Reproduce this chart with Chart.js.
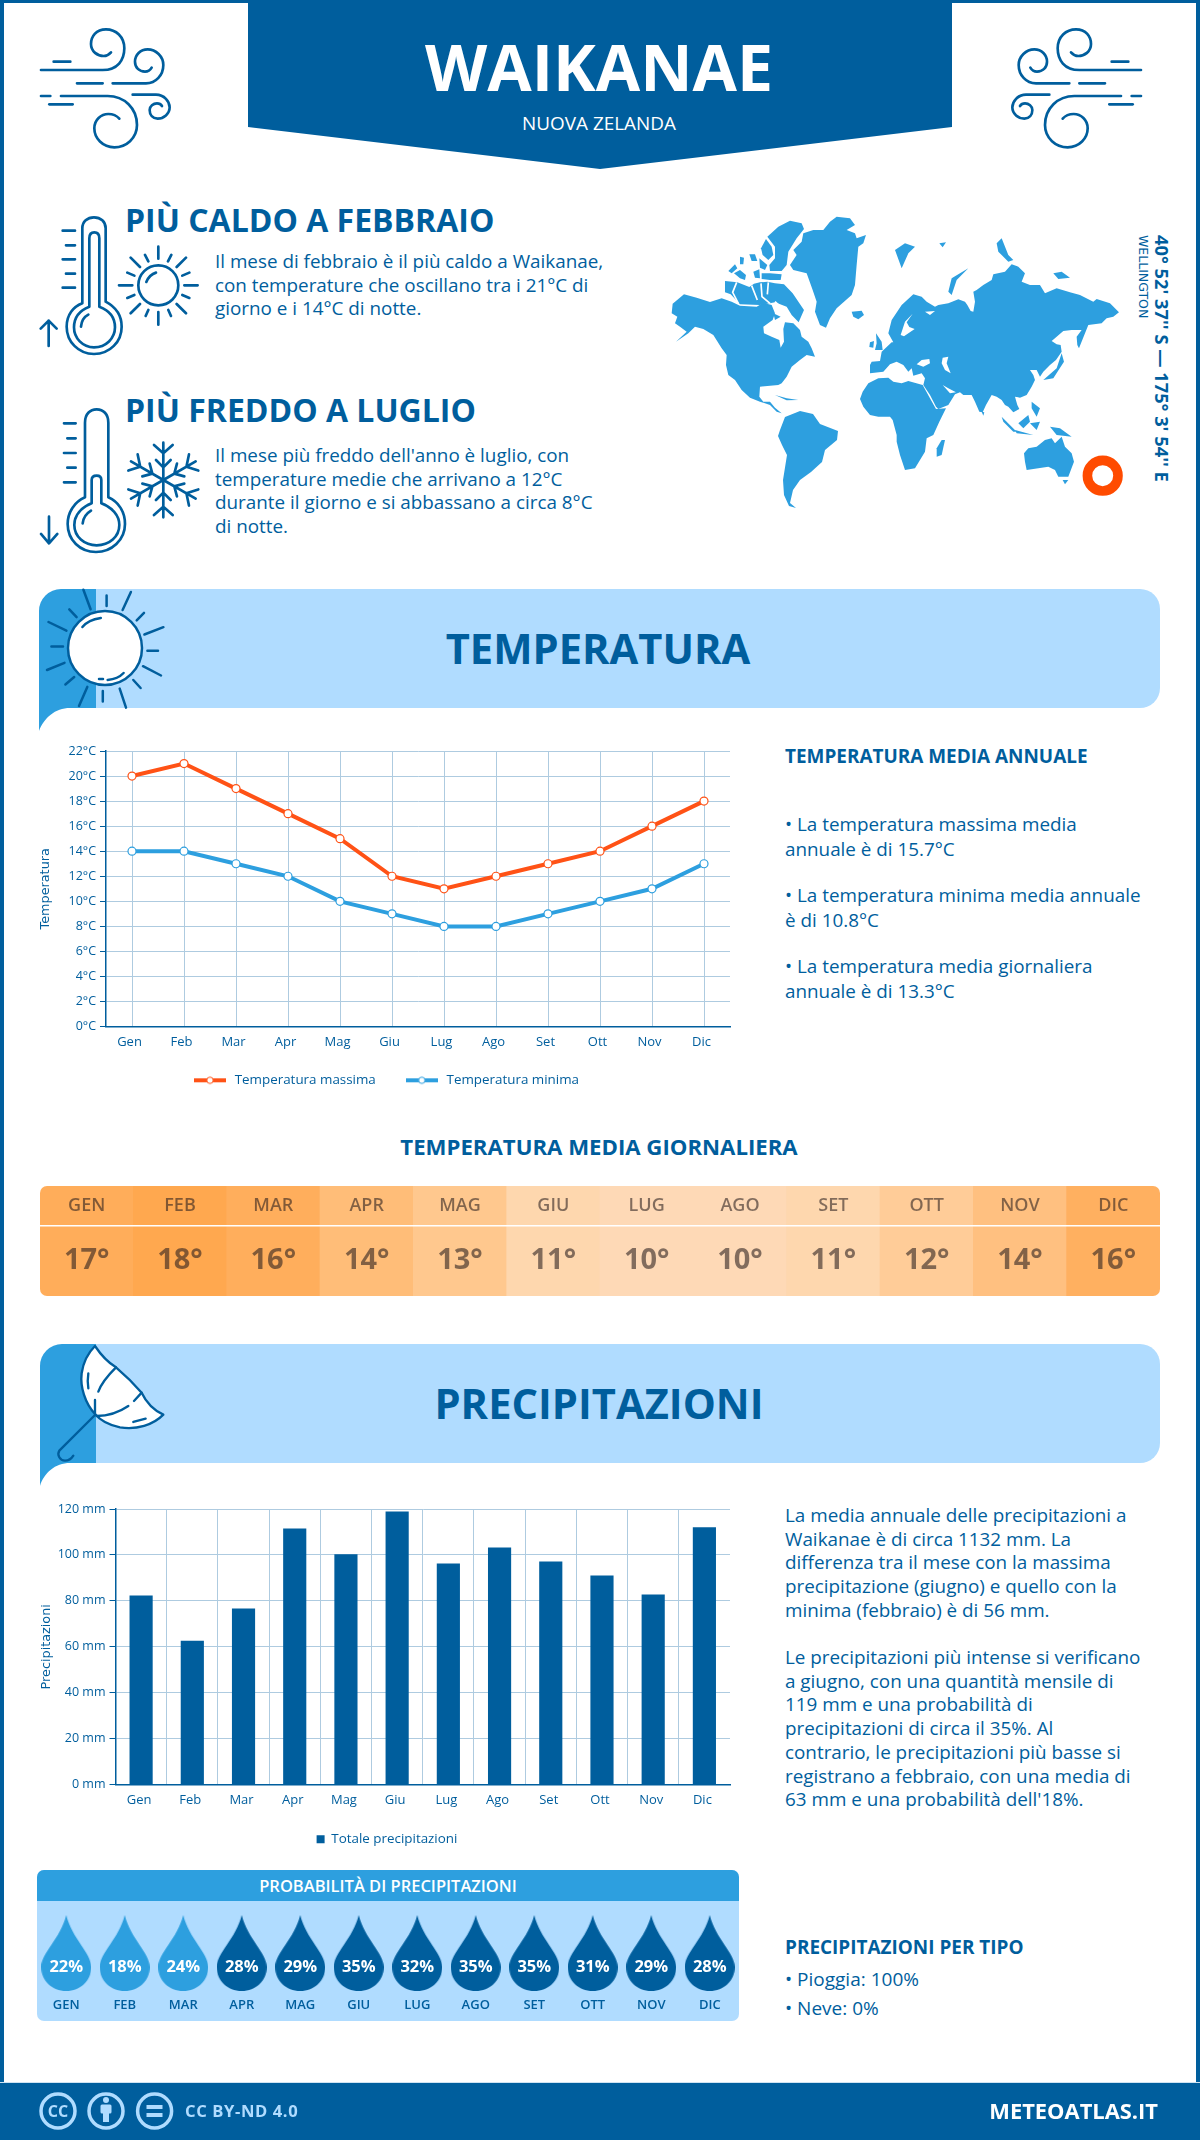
<!DOCTYPE html>
<html lang="it">
<head>
<meta charset="utf-8">
<title>Waikanae</title>
<script src="https://cdn.jsdelivr.net/npm/chart.js@4"></script>
<style>
    html, body { margin: 0; padding: 0; background: #fff; }
    body { position: relative; width: 1200px; height: 2140px; overflow: hidden; font-family: "Open Sans", sans-serif; color: #005e9d; }
    .frame { position: absolute; left: 0; top: 0; width: 1192px; height: 2133px; border: 4px solid #005e9d; border-top-width: 3px; }
    .t { position: absolute; white-space: nowrap; margin: 0; }
    svg.art { position: absolute; left: 0; top: 0; width: 1200px; height: 2140px; }
    canvas { position: absolute; }
    .panel { position: absolute; left: 37px; top: 1870px; width: 702px; height: 151px; background: #b0dcff; border-radius: 7px; overflow: hidden; }
    .panel div { height: 31px; background: #2d9fdf; color: #fff; text-align: center; font-weight: 600; font-size: 16.5px; line-height: 31px; }
    .strip { position: absolute; left: 40px; top: 1186px; width: 1120px; height: 110px; border-radius: 7px; overflow: hidden; }
    .strip canvas { left: 0; top: 0; }
    .body18 { font-size: 18.85px; line-height: 24.8px; }
    .body19 { font-size: 18.85px; line-height: 23.7px; }
    .h18 { font-size: 18.95px; font-weight: 700; }
    .foot { position: absolute; left: 0; top: 2083px; width: 1200px; height: 57px; background: #005e9d; box-shadow: 0 -1px 0 #cfe3f2; }
</style>
</head>
<body>
<div class="frame"></div>

<svg class="art" viewBox="0 0 1200 2140" xmlns="http://www.w3.org/2000/svg">
    <polygon points="248,0 952,0 952,127 600,169 248,127" fill="#005e9d"/>

    <!-- wind icons -->
    <defs>
        <g id="wind" fill="none" stroke="#005e9d" stroke-width="8" stroke-linecap="round">
            <path d="M30,150 H215 C260,150 280,120 280,85 C280,50 255,28 225,28 C195,28 180,50 180,72 C180,95 200,108 218,108 C228,108 235,103 240,97"/>
            <path d="M68,125 H118 M138,190 H215"/>
            <path d="M245,190 H345 C375,190 397,165 397,135 C397,110 375,88 350,88 C328,88 312,105 312,125 C312,143 325,155 342,155 C350,155 358,150 362,143"/>
            <path d="M30,228 H58 M90,228 H230 C280,228 318,265 318,315 C318,355 285,382 250,382 C215,382 190,355 190,325 C190,300 210,282 232,282 C247,282 258,288 265,296"/>
            <path d="M55,253 H125"/>
            <path d="M305,224 H375 C400,224 416,245 416,262 C416,282 398,296 380,296 C365,296 356,285 356,270 C356,258 367,250 378,250 C384,250 390,253 393,258"/>
        </g>
    </defs>
    <g transform="translate(31,20) scale(.3333)"><use href="#wind"/></g>
    <g transform="translate(1151,20) scale(-.3333,.3333)"><use href="#wind"/></g>

    <!-- hot thermometer and sun -->
    <g transform="translate(30,20) scale(.3333)" fill="none" stroke="#005e9d" stroke-width="8" stroke-linecap="round" stroke-linejoin="round">
        <path d="M157,850 V625 C157,605 172,592 192,592 C212,592 227,605 227,625 V845 C255,860 275,885 275,920 C275,965 240,1002 192,1002 C145,1002 110,965 110,920 C110,885 130,860 157,850 Z"/>
        <path d="M178,860 V655 C178,642 185,637 193,637 C201,637 208,642 208,655 V860 C235,870 255,890 255,922 C255,955 228,982 192,982 C158,982 132,955 132,922 C132,890 152,870 178,860 Z"/>
        <path d="M153,920 C155,900 163,890 175,884"/>
        <path d="M98,632 H135 M108,676 H135 M98,718 H135 M108,761 H135 M98,803 H135"/>
        <path d="M56,978 V902 M32,926 L56,902 L80,926"/>
        <circle cx="385" cy="796" r="60"/>
        <path d="M349,786 C355,772 365,762 378,758"/>
        <path d="M385,680 V716 M385,876 V914 M267,796 H307 M463,796 H503 M302,713 L330,741 M468,713 L440,741 M302,880 L330,852 M468,880 L440,852"/>
        <path d="M345,705 L355,724 M424,705 L414,724 M292,758 L313,767 M478,758 L457,767 M292,834 L313,825 M478,834 L457,825 M347,888 L355,870 M423,888 L415,870"/>
    </g>

    <!-- cold thermometer and snowflake -->
    <defs>
        <path id="arm" d="M400,240 V128 M372,135 L400,160 L428,135 M378,180 L400,202 L422,180"/>
    </defs>
    <g transform="translate(30,400) scale(.3333)" fill="none" stroke="#005e9d" stroke-width="8" stroke-linecap="round" stroke-linejoin="round">
        <path d="M165,292 V68 C165,42 180,28 200,28 C220,28 235,42 235,68 V292 C265,305 285,335 285,372 C285,420 245,456 198,456 C150,456 113,420 113,372 C113,335 135,305 165,292 Z"/>
        <path d="M185,310 V240 C185,230 192,227 200,227 C208,227 214,230 214,240 V310 C245,322 268,345 268,375 C268,410 238,436 200,436 C163,436 133,410 133,375 C133,345 155,322 185,310 Z"/>
        <path d="M158,370 C160,352 170,340 183,332"/>
        <path d="M102,70 H137 M112,115 H137 M102,159 H137 M112,203 H137 M102,247 H137"/>
        <path d="M57,350 V430 M33,402 L57,430 L82,402"/>
        <use href="#arm"/>
        <use href="#arm" transform="rotate(60 400 240)"/>
        <use href="#arm" transform="rotate(120 400 240)"/>
        <use href="#arm" transform="rotate(180 400 240)"/>
        <use href="#arm" transform="rotate(240 400 240)"/>
        <use href="#arm" transform="rotate(300 400 240)"/>
    </g>

    <!-- world map, west half -->
    <g transform="translate(660,205) scale(.3333)" fill="#2d9fdf">
        <path d="M38,296 L55,282 L72,268 L110,278 L150,291 L185,280 L215,290 L240,302 L290,305 L310,293 L335,300 L345,325 L338,345 L310,365 L312,385 L335,395 L358,405 L362,428 L372,410 L370,372 L375,352 L400,355 L420,375 L425,395 L445,410 L455,430 L465,455 L440,450 L420,465 L395,485 L380,515 L365,535 L355,540 L300,545 L298,575 L310,590 L330,590 L345,608 L365,625 L350,620 L330,600 L300,590 L270,578 L245,555 L225,525 L205,510 L198,480 L200,450 L185,430 L160,390 L130,372 L105,365 L85,385 L48,410 L80,380 L60,365 L45,355 L52,335 L35,325 Z"/>
        <path d="M322,95 L355,65 L390,47 L425,55 L432,72 L410,100 L385,140 L380,180 L365,198 L330,198 L328,180 L345,160 L345,125 Z"/>
        <path d="M303,130 L318,102 L335,125 L340,150 L325,165 L308,150 Z"/>
        <path d="M205,198 L225,178 L232,190 L215,205 Z M222,205 L240,195 L258,210 L255,225 L240,220 Z M268,148 L285,148 L292,168 L275,168 Z M240,155 L252,158 L250,178 L240,178 Z M280,200 L298,193 L300,220 L285,218 Z M298,160 L322,180 L315,195 L300,188 Z M305,205 L330,205 L365,208 L362,225 L330,225 L305,222 Z"/>
        <path d="M195,228 L232,232 L268,246 L282,236 L300,232 L322,230 L345,235 L372,238 L398,265 L432,315 L416,352 L395,330 L380,305 L345,292 L300,300 L240,298 L212,268 L195,262 Z"/>
        <path d="M230,232 L218,262 L235,295 M275,242 L292,285 M303,235 L306,275 L330,295 M325,232 L322,268 M345,290 L375,318 L345,322" fill="none" stroke="#fff" stroke-width="5"/>
        <path d="M340,325 L362,335 L345,345 Z"/>
        <path d="M390,180 L410,150 L400,135 L425,110 L430,85 L460,75 L490,75 L510,50 L530,35 L570,40 L585,60 L560,75 L585,85 L590,100 L618,90 L610,115 L595,125 L590,180 L585,240 L575,270 L530,310 L510,340 L498,368 L480,360 L465,320 L470,290 L458,255 L440,205 L400,195 Z"/>
        <path d="M575,320 L605,317 L612,330 L595,343 L580,335 Z"/>
        <path d="M648,385 L665,410 L668,435 L645,435 L650,415 Z M630,412 L642,408 L640,428 L628,426 Z"/>
        <path d="M345,570 L380,580 L415,585 L380,586 Z"/>
    </g>
    <path fill="#2d9fdf" d="M780,430 L785,417 L800,411 L813,414 L820,424 L838,431 L837,440 L825,450 L822,462 L811,472 L800,480 L793,490 L790,503 L796,508 L789,506 L784,495 L783,480 L787,455 L782,445 L778,436 Z"/>
    <!-- world map, east half -->
    <g transform="translate(880,205) scale(.3333)" fill="#2d9fdf">
        <path d="M100,268 L125,275 L140,290 L165,305 L175,300 L205,295 L235,283 L255,290 L262,300 L272,318 L280,320 L285,290 L280,260 L290,255 L310,240 L335,225 L340,208 L375,200 L395,178 L415,185 L435,205 L425,230 L450,240 L480,240 L495,265 L530,250 L570,262 L600,270 L640,290 L650,282 L690,295 L717,322 L700,335 L680,340 L665,355 L625,360 L597,430 L592,420 L590,395 L605,375 L575,375 L550,378 L530,395 L515,408 L530,418 L542,420 L545,440 L528,465 L510,480 L490,500 L480,515 L470,495 L450,495 L460,510 L465,525 L455,545 L440,570 L420,578 L405,575 L412,600 L418,612 L400,622 L385,605 L375,600 L365,585 L350,575 L335,570 L318,600 L308,622 L298,620 L285,590 L275,570 L250,570 L240,562 L225,568 L205,600 L175,612 L168,605 L150,570 L130,540 L135,520 L125,505 L100,512 L95,490 L85,500 L70,480 L50,470 L30,478 L10,500 L-30,505 L-30,480 L-25,470 L0,468 L5,440 L35,412 L40,412 L25,385 L35,345 L65,300 Z"/>
        <path fill="#fff" d="M62,390 L75,350 L98,326 L80,352 L88,366 L104,372 L72,394 Z M110,478 L125,465 L148,462 L150,475 L130,485 Z M188,458 L205,455 L200,475 L212,505 L195,495 L185,475 Z M188,540 L205,550 L228,562 L210,565 Z M135,320 L165,318 L150,330 Z"/>
        <path d="M-60,582 L-52,560 L-35,535 L-5,520 L25,518 L40,530 L65,535 L85,528 L128,540 L150,580 L168,612 L198,610 L178,650 L160,690 L140,700 L135,740 L105,790 L75,795 L60,750 L50,710 L50,690 L38,645 L30,635 L-5,635 L-30,630 L-50,605 Z"/>
        <path d="M185,705 L195,705 L185,750 L170,755 L170,730 Z"/>
        <path d="M432,745 L445,730 L470,725 L495,705 L515,700 L525,715 L545,695 L555,725 L575,745 L582,770 L565,815 L535,815 L525,795 L505,785 L475,790 L440,795 L435,770 Z"/>
        <path d="M548,825 L565,825 L555,838 Z"/>
        <path d="M510,665 L540,670 L575,695 L530,690 Z M415,655 L445,630 L450,650 L430,670 Z M365,635 L410,680 L400,680 L370,650 Z M405,675 L460,690 L410,685 Z M455,590 L480,610 L470,635 L455,610 Z M450,655 L480,650 L470,675 Z"/>
        <path d="M490,525 L530,490 L545,445 L552,470 L520,520 Z M305,620 L313,622 L310,632 Z"/>
        <path d="M45,135 L75,115 L105,125 L85,145 L65,190 Z M205,260 L215,220 L265,190 L230,225 L215,270 Z M350,115 L365,100 L385,150 L400,165 L385,170 L355,140 Z M520,205 L545,200 L570,218 L535,222 Z M178,115 L198,112 L188,127 Z"/>
    </g>
    <circle cx="1102.7" cy="475.7" r="15.3" fill="none" stroke="#ff4b00" stroke-width="9.6"/>

    <!-- temperature band -->
    <path fill="#b0dcff" d="M96,589 H1140 A20,20 0 0 1 1160,609 V688 A20,20 0 0 1 1140,708 H96 Z"/>
    <path fill="#2d9fdf" d="M39,731 V611 A22,22 0 0 1 61,589 H96 V708 H70 C55,708 44,718 39,731 Z"/>
    <g fill="none" stroke="#005e9d" stroke-width="2.5" stroke-linecap="round">
        <circle cx="105" cy="648" r="37" fill="#fff"/>
        <path d="M83.4,589.7 L90.6,609.3 M106.6,595.5 V605.9 M130.9,592 L122.6,610 M144,612.8 L136.7,620.3 M163.4,627.2 L144.4,634.5 M158,650.7 H147.4 M161,675.5 L143,666.2 M140.6,688 L133.3,680 M126,707.6 L119.7,688.6 M102.8,701.4 V691 M79,705.9 L87.3,686.9 M65.4,684.5 L74.2,677 M47,670 L64.5,662.8 M51.4,646.6 H63 M48.5,622 L66.4,630.7 M69.3,609.3 L76.6,617.2"/>
        <path d="M82.4,627 Q88,620 100.8,618 M107.6,680 Q118,679 123.6,673 M99,679 H103"/>
    </g>

    <!-- precipitation band -->
    <path fill="#b0dcff" d="M96,1344 H1140 A20,20 0 0 1 1160,1364 V1443 A20,20 0 0 1 1140,1463 H96 Z"/>
    <path fill="#2d9fdf" d="M40,1486 V1366 A22,22 0 0 1 62,1344 H96 V1463 H70 C55,1463 44,1473 40,1486 Z"/>
    <g transform="translate(30,1340) scale(.3333)" fill="none" stroke="#005e9d" stroke-width="7" stroke-linecap="round" stroke-linejoin="round">
        <path fill="#fff" d="M195,18 C215,48 235,68 258,82 C285,105 315,135 335,158 C350,190 375,212 400,224 C370,255 320,270 270,262 C235,255 210,240 195,222 C165,190 150,140 155,100 C160,65 175,38 195,18 Z"/>
        <path d="M258,82 C240,100 215,125 205,155 M195,180 V222 M175,100 C172,120 172,130 175,145 M335,158 L312,183 M295,198 C270,215 240,228 200,228 M310,246 L347,236"/>
        <path d="M195,225 L88,332 C80,345 90,362 105,362 C118,362 125,355 130,347"/>
    </g>
</svg>

<h1 class="t" style="left:247px;width:704px;text-align:center;top:22px;font-size:64.4px;line-height:88px;font-weight:700;color:#fff">WAIKANAE</h1>
<p class="t" style="left:247px;width:704px;text-align:center;top:110px;font-size:18.9px;line-height:26px;color:#fff">NUOVA ZELANDA</p>

<h2 class="t" style="left:125px;top:198px;font-size:32px;line-height:44px;font-weight:700">PIÙ CALDO A FEBBRAIO</h2>
<p class="t body19" style="left:215px;top:250px">Il mese di febbraio è il più caldo a Waikanae,<br>con temperature che oscillano tra i 21°C di<br>giorno e i 14°C di notte.</p>
<h2 class="t" style="left:125px;top:388px;font-size:32px;line-height:44px;font-weight:700">PIÙ FREDDO A LUGLIO</h2>
<p class="t body19" style="left:215px;top:444px">Il mese più freddo dell'anno è luglio, con<br>temperature medie che arrivano a 12°C<br>durante il giorno e si abbassano a circa 8°C<br>di notte.</p>

<div class="t" style="left:1150px;top:235px;transform-origin:0 0;transform:translate(24px,0) rotate(90deg);font-size:18.3px;line-height:24px;font-weight:700">40° 52' 37'' S — 175° 3' 54'' E</div>
<div class="t" style="left:1136px;top:235px;transform-origin:0 0;transform:translate(14px,0) rotate(90deg);font-size:12.5px;line-height:14px;font-family:'DejaVu Sans'">WELLINGTON</div>

<h2 class="t" style="left:0;width:1196px;text-align:center;top:620px;font-size:41.7px;line-height:56px;font-weight:700">TEMPERATURA</h2>
<canvas id="tempChart" style="left:30px;top:735px" width="715" height="373"></canvas>

<h3 class="t h18" style="left:785px;top:744px;line-height:24px">TEMPERATURA MEDIA ANNUALE</h3>
<p class="t body18" style="left:785px;top:812px">• La temperatura massima media<br>annuale è di 15.7°C</p>
<p class="t body18" style="left:785px;top:883px">• La temperatura minima media annuale<br>è di 10.8°C</p>
<p class="t body18" style="left:785px;top:954px">• La temperatura media giornaliera<br>annuale è di 13.3°C</p>

<h3 class="t" style="left:0;width:1198px;text-align:center;top:1132px;font-size:22.2px;line-height:30px;font-weight:700">TEMPERATURA MEDIA GIORNALIERA</h3>
<div class="strip"><canvas id="dailyChart" width="1120" height="110"></canvas></div>

<h2 class="t" style="left:0;width:1198px;text-align:center;top:1375px;font-size:41.7px;line-height:56px;font-weight:700">PRECIPITAZIONI</h2>
<canvas id="rainChart" style="left:30px;top:1495px" width="715" height="362"></canvas>

<p class="t body19" style="left:785px;top:1504px">La media annuale delle precipitazioni a<br>Waikanae è di circa 1132 mm. La<br>differenza tra il mese con la massima<br>precipitazione (giugno) e quello con la<br>minima (febbraio) è di 56 mm.</p>
<p class="t body19" style="left:785px;top:1646px">Le precipitazioni più intense si verificano<br>a giugno, con una quantità mensile di<br>119 mm e una probabilità di<br>precipitazioni di circa il 35%. Al<br>contrario, le precipitazioni più basse si<br>registrano a febbraio, con una media di<br>63 mm e una probabilità dell'18%.</p>

<div class="panel"><div>PROBABILITÀ DI PRECIPITAZIONI</div></div>
<canvas id="chanceChart" style="left:37px;top:1901px" width="702" height="120"></canvas>

<h3 class="t h18" style="left:785px;top:1935px;line-height:24px">PRECIPITAZIONI PER TIPO</h3>
<p class="t" style="left:785px;top:1965px;font-size:19px;line-height:29px">• Pioggia: 100%<br>• Neve: 0%</p>

<div class="foot"></div>
<svg class="art" viewBox="0 0 1200 2140" xmlns="http://www.w3.org/2000/svg">
    <g fill="none" stroke="#b0dcff" stroke-width="3.5">
        <circle cx="58" cy="2111" r="17"/>
        <circle cx="106" cy="2111" r="17"/>
        <circle cx="154.6" cy="2111" r="17"/>
    </g>
    <text x="58" y="2117" text-anchor="middle" font-family="Open Sans" font-weight="700" font-size="16" fill="#b0dcff">CC</text>
    <g fill="#b0dcff">
        <circle cx="106" cy="2100" r="3"/>
        <rect x="100.5" y="2104.5" width="11" height="9" rx="1.5"/>
        <rect x="103" y="2112" width="6" height="10"/>
        <rect x="146.5" y="2105" width="16" height="4"/>
        <rect x="146.5" y="2113" width="16" height="4"/>
    </g>
</svg>
<div class="t" style="left:185px;top:2099px;font-size:16.6px;line-height:24px;font-weight:700;letter-spacing:.6px;color:#b0dcff">CC BY-ND 4.0</div>
<div class="t" style="right:42px;top:2094px;font-size:21.9px;line-height:34px;font-weight:700;color:#fff">METEOATLAS.IT</div>

<script>
    const months = ['Gen', 'Feb', 'Mar', 'Apr', 'Mag', 'Giu', 'Lug', 'Ago', 'Set', 'Ott', 'Nov', 'Dic'];
    const monthsUpper = ['GEN', 'FEB', 'MAR', 'APR', 'MAG', 'GIU', 'LUG', 'AGO', 'SET', 'OTT', 'NOV', 'DIC'];
    const tempMax = [20, 21, 19, 17, 15, 12, 11, 12, 13, 14, 16, 18];
    const tempMin = [14, 14, 13, 12, 10, 9, 8, 8, 9, 10, 11, 13];
    const tempTicks = ['0°C', '2°C', '4°C', '6°C', '8°C', '10°C', '12°C', '14°C', '16°C', '18°C', '20°C', '22°C'];
    const tempDaily = [17, 18, 16, 14, 13, 11, 10, 10, 11, 12, 14, 16];
    const rainTotals = [82.2, 62.5, 76.5, 111.4, 100.1, 118.8, 96.1, 103.1, 97, 90.9, 82.6, 111.9];
    const rainTicks = ['0 mm', '20 mm', '40 mm', '60 mm', '80 mm', '100 mm', '120 mm'];
    const rainChance = [22, 18, 24, 28, 29, 35, 32, 35, 35, 31, 29, 28];

    const dailyColors = ['#ffad5a', '#ffa84f', '#ffae5c', '#ffbd78', '#ffc88e', '#fed7ae', '#fed9b6', '#fed9b6', '#fed7ae', '#ffcc98', '#ffc080', '#ffb060'];

    const NAVY = '#005e9d';
    const SKY = '#2d9fdf';
    const ORANGE = '#ff5216';
    const GRID = '#aecbe0';
    const Y_FONT = { family: 'Open Sans', size: 12.5 };
    const X_FONT = { family: 'Open Sans', size: 13 };
    const TITLE_FONT = { family: 'DejaVu Sans', size: 12.8 };

    Chart.defaults.animation = false;
    Chart.defaults.responsive = false;
    Chart.defaults.color = NAVY;
    Chart.defaults.font.family = 'Open Sans';
    Chart.defaults.layout.autoPadding = false;

    // nudges the legend box after layout, the padding alone can't place it
    function moveLegend(dx, dy) {
        return {
            id: 'moveLegend',
            afterLayout(chart) {
                const legend = chart.legend;
                legend.left += dx;
                legend.right += dx;
                legend.top += dy;
                legend.bottom += dy;
            }
        };
    }

    // legend marker: a thick line with the point on top
    function lineMarker(color) {
        const c = document.createElement('canvas');
        c.width = 32;
        c.height = 10;
        const ctx = c.getContext('2d');
        ctx.fillStyle = color;
        ctx.fillRect(0, 3, 32, 4);
        ctx.beginPath();
        ctx.arc(16, 5, 3.2, 0, Math.PI * 2);
        ctx.fillStyle = '#fff';
        ctx.fill();
        ctx.lineWidth = 1;
        ctx.strokeStyle = color;
        ctx.stroke();
        return c;
    }

    function dropImage(color) {
        const c = document.createElement('canvas');
        c.width = 50;
        c.height = 76;
        const ctx = c.getContext('2d');
        ctx.beginPath();
        ctx.moveTo(25, 0);
        ctx.bezierCurveTo(31, 24, 50, 38, 50, 52);
        ctx.bezierCurveTo(50, 66, 39, 76, 25, 76);
        ctx.bezierCurveTo(11, 76, 0, 66, 0, 52);
        ctx.bezierCurveTo(0, 38, 19, 24, 25, 0);
        ctx.fillStyle = color;
        ctx.fill();
        return c;
    }

    function yAxis(labels, max, step, width, title, titlePad) {
        return {
            min: 0,
            max: max,
            afterFit: scale => { scale.width = width; },
            ticks: {
                stepSize: step,
                font: Y_FONT,
                color: NAVY,
                padding: 4,
                callback: (value, i) => labels[i]
            },
            grid: { color: GRID, tickColor: NAVY, tickLength: 6 },
            border: { color: NAVY, width: 1.5 },
            title: { display: true, text: title, font: TITLE_FONT, color: NAVY, padding: { top: titlePad, bottom: 0 } }
        };
    }

    // Temperature lines
    const maxMarker = lineMarker(ORANGE);
    const minMarker = lineMarker(SKY);
    new Chart(document.getElementById('tempChart'), {
        type: 'line',
        data: {
            labels: months,
            datasets: [
                { label: 'Temperatura massima', data: tempMax, borderColor: ORANGE, borderWidth: 4, pointRadius: 4, pointBorderWidth: 1.2, pointBorderColor: ORANGE, pointBackgroundColor: '#fff', tension: 0 },
                { label: 'Temperatura minima', data: tempMin, borderColor: SKY, borderWidth: 4, pointRadius: 4, pointBorderWidth: 1.2, pointBorderColor: SKY, pointBackgroundColor: '#fff', tension: 0 }
            ]
        },
        options: {
            layout: { padding: { top: 16, right: 15, bottom: 0, left: 0 } },
            scales: {
                x: {
                    offset: true,
                    afterFit: scale => { scale.height = 30; },
                    grid: { offset: false, color: GRID, drawTicks: false },
                    border: { color: NAVY, width: 1.5 },
                    ticks: { font: X_FONT, color: NAVY, padding: 8, maxRotation: 0, labelOffset: -2.5 }
                },
                y: yAxis(tempTicks, 22, 2, 76, 'Temperatura', 8)
            },
            plugins: {
                tooltip: { enabled: false },
                legend: {
                    position: 'bottom',
                    labels: {
                        font: { family: 'Open Sans', size: 13.4 },
                        color: NAVY,
                        usePointStyle: true,
                        pointStyleWidth: 36,
                        padding: 28,
                        generateLabels: chart => chart.data.datasets.map((d, i) => ({
                            text: d.label,
                            fontColor: NAVY,
                            pointStyle: i === 0 ? maxMarker : minMarker,
                            datasetIndex: i,
                            lineWidth: 0
                        }))
                    }
                }
            }
        },
        plugins: [moveLegend(5.5, -11)]
    });

    // Daily mean strip, one full height bar per month
    const cellLabels = {
        id: 'cellLabels',
        afterDatasetsDraw(chart) {
            const { ctx, scales, width } = chart;
            ctx.save();
            ctx.fillStyle = '#fff';
            ctx.fillRect(0, 39, width, 1.5);
            ctx.textAlign = 'center';
            ctx.textBaseline = 'middle';
            ctx.fillStyle = 'rgba(40, 30, 30, 0.58)';
            monthsUpper.forEach((m, i) => {
                const x = scales.x.getPixelForValue(i);
                ctx.font = '600 18px "Open Sans"';
                ctx.fillText(m, x, 20);
                ctx.font = '700 29px "Open Sans"';
                ctx.fillText(tempDaily[i] + '°', x, 75);
            });
            ctx.restore();
        }
    };
    new Chart(document.getElementById('dailyChart'), {
        type: 'bar',
        data: {
            labels: monthsUpper,
            datasets: [{ data: tempDaily.map(() => [0, 1]), backgroundColor: dailyColors, barPercentage: 1, categoryPercentage: 1 }]
        },
        options: {
            layout: { padding: 0 },
            scales: {
                x: { display: false },
                y: { display: false, min: 0, max: 1 }
            },
            plugins: { legend: { display: false }, tooltip: { enabled: false } }
        },
        plugins: [cellLabels]
    });

    // Rain bars
    new Chart(document.getElementById('rainChart'), {
        type: 'bar',
        data: {
            labels: months,
            datasets: [{ label: 'Totale precipitazioni', data: rainTotals, backgroundColor: NAVY, barThickness: 22.5 }]
        },
        options: {
            layout: { padding: { top: 14, right: 15, bottom: 0, left: 0 } },
            scales: {
                x: {
                    afterFit: scale => { scale.height = 39; },
                    grid: { color: ctx => ctx.tick ? GRID : 'transparent', drawTicks: false },
                    border: { color: NAVY, width: 1.5 },
                    ticks: { font: X_FONT, color: NAVY, padding: 8, maxRotation: 0, labelOffset: -2 }
                },
                y: yAxis(rainTicks, 120, 20, 85.5, 'Precipitazioni', 9)
            },
            plugins: {
                tooltip: { enabled: false },
                legend: {
                    position: 'bottom',
                    labels: { font: { family: 'Open Sans', size: 13.4 }, color: NAVY, boxWidth: 8, boxHeight: 8 }
                }
            }
        },
        plugins: [moveLegend(7, -1)]
    });

    // Rain chance drops
    const darkDrop = dropImage(NAVY);
    const lightDrop = dropImage(SKY);
    const dropLabels = {
        id: 'dropLabels',
        afterDatasetsDraw(chart) {
            const { ctx, scales } = chart;
            ctx.save();
            ctx.textAlign = 'center';
            ctx.textBaseline = 'middle';
            ctx.fillStyle = '#fff';
            ctx.font = '700 16.5px "Open Sans"';
            rainChance.forEach((v, i) => {
                ctx.fillText(v + '%', scales.x.getPixelForValue(i), 66);
            });
            ctx.restore();
        }
    };
    new Chart(document.getElementById('chanceChart'), {
        type: 'line',
        data: {
            labels: monthsUpper,
            datasets: [{
                data: rainChance.map(() => 0),
                showLine: false,
                pointStyle: rainChance.map(v => v < 25 ? lightDrop : darkDrop)
            }]
        },
        options: {
            layout: { padding: { top: 12, right: 0, bottom: 0, left: 0 } },
            scales: {
                x: {
                    offset: true,
                    afterFit: scale => { scale.height = 28; },
                    grid: { display: false, drawTicks: false },
                    border: { display: false },
                    ticks: { font: { family: 'Open Sans', size: 13, weight: '600' }, color: NAVY, padding: 4, maxRotation: 0 }
                },
                y: { display: false, min: -1, max: 1 }
            },
            plugins: { legend: { display: false }, tooltip: { enabled: false } }
        },
        plugins: [dropLabels]
    });
</script>
</body>
</html>
